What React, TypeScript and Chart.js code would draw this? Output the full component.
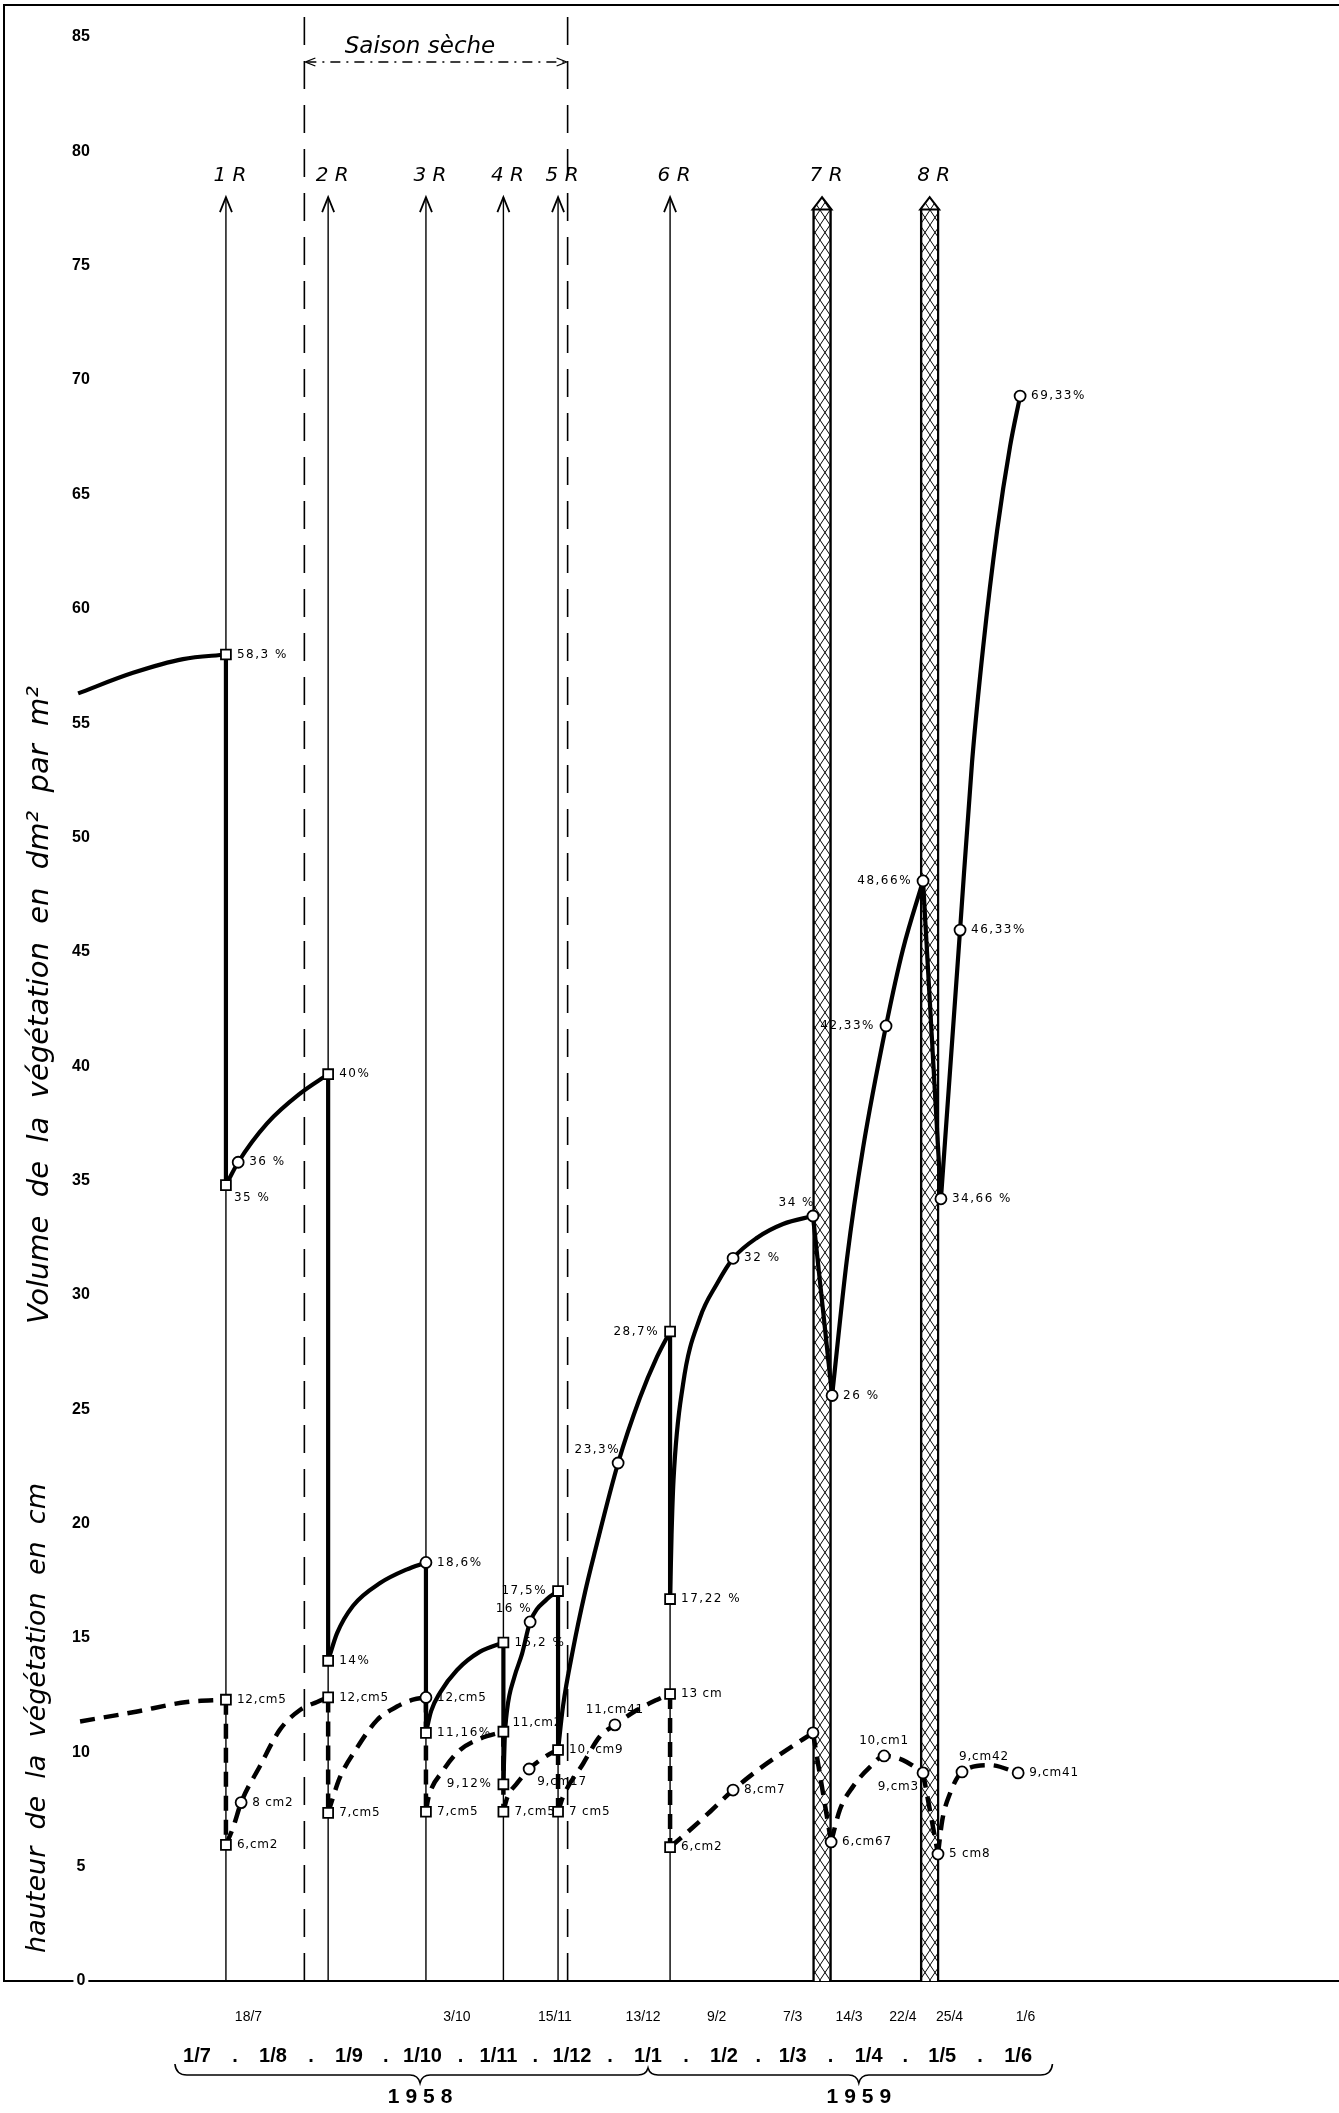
import React, { useEffect, useRef } from 'react';
import { Chart, registerables } from 'chart.js';

Chart.register(...registerables);

// x = days after 1 July 1958 (as drawn), y = value on the shared axis
const yTicks = [0, 5, 10, 15, 20, 25, 30, 35, 40, 45, 50, 55, 60, 65, 70, 75, 80, 85];
const monthDays = [0, 31, 62, 92, 123, 153, 184, 215, 243, 274, 304, 335];
const monthLabels = ['1/7', '1/8', '1/9', '1/10', '1/11', '1/12', '1/1', '1/2', '1/3', '1/4', '1/5', '1/6'];
const dateTickDays = [21, 106, 146, 182, 212, 243, 266, 288, 307, 338];
const dateTickLabels = ['18/7', '3/10', '15/11', '13/12', '9/2', '7/3', '14/3', '22/4', '25/4', '1/6'];
const yearLabels = ['1958', '1959'];
const yearCenters = [91, 270];
const braceDays = [-9, 184, 349];

const cutLabels = ['1 R', '2 R', '3 R', '4 R', '5 R', '6 R', '7 R', '8 R'];
const cutDays = [11.8, 53.5, 93.4, 125, 147.3, 193, 255, 298.9];
const cutHatched = [false, false, false, false, false, false, true, true];
const arrowTop = 78;
const bandTop = 77.5;
const drySeasonDays = [43.8, 151.2];
const drySeasonTop = 86.1;
const drySeasonLabel = 'Saison sèche';

const volumeTitle = 'Volume  de  la  végétation  en  dm²  par  m²';
const heightTitle = 'hauteur  de  la  végétation  en  cm';

// Volume de la végétation (solid): growth curves between cuts
const volumeCurves: number[][][] = [
  [[-48.5, 56.3], [-26.1, 57.2], [-5.7, 57.8], [11.8, 58.0]],
  [[11.8, 34.8], [16.8, 35.8], [28.6, 37.5], [42, 38.8], [53.5, 39.65]],
  [[53.5, 14.0], [57.1, 15.2], [63.6, 16.4], [74.7, 17.4], [85.7, 18.0], [93.4, 18.3]],
  [[93.4, 10.85], [95.5, 11.8], [99.1, 12.6], [106.1, 13.6], [115.5, 14.4], [125, 14.8]],
  [[125, 8.6], [125.5, 10.5], [126.5, 11.85], [129.5, 13.3], [132.6, 14.3], [135.9, 15.7], [142.8, 16.7], [147.3, 17.05]],
  [[147.3, 10.1], [149.3, 12.0], [153.4, 14.5], [158.3, 17.0], [162.4, 18.8], [171.8, 22.65], [180.7, 25.5], [187.7, 27.3], [193, 28.4]],
  [[193, 16.7], [193.6, 19.5], [194.4, 21.9], [198.3, 26.1], [205.2, 29.0], [212.2, 30.5], [218.7, 31.6], [228.5, 32.5], [239.1, 33.1], [251.3, 33.45]],
  [[259.1, 25.6], [265.2, 31.6], [271.7, 36.4], [281.1, 41.76], [288, 45.1], [296.2, 48.1]],
  [[303.5, 34.2], [311.3, 45.95], [316.2, 53.3], [320.7, 58.3], [326.4, 63.4], [331.7, 67.1], [335.8, 69.3]],
];

// Hauteur de la végétation (dashed): growth curves between cuts
const heightCurves: number[][][] = [
  [[-47.7, 11.35], [-26.1, 11.75], [-4.1, 12.2], [11.8, 12.3]],
  [[11.8, 5.95], [14.7, 6.7], [18, 7.8], [25.7, 9.4], [33.9, 11.0], [42, 11.85], [49, 12.2], [53.5, 12.4]],
  [[53.5, 7.35], [55.1, 7.9], [58.3, 8.9], [65.3, 10.2], [73.4, 11.4], [81.6, 12.0], [88.1, 12.3], [93.4, 12.4]],
  [[93.4, 7.4], [94.4, 8.0], [100.4, 9.2], [107.3, 10.1], [115.5, 10.6], [125, 10.9]],
  [[125, 7.4], [126.5, 8.0], [130.6, 8.65], [135.5, 9.27], [141.2, 9.75], [145.2, 10.0], [147.3, 10.1]],
  [[147.3, 7.4], [149.3, 8.05], [157.5, 9.5], [164.4, 10.7], [170.5, 11.2], [179.5, 11.85], [187.7, 12.3], [193, 12.55]],
  [[193, 5.85], [201.1, 6.6], [209.3, 7.4], [218.7, 8.35], [228.5, 9.2], [239.1, 10.0], [251.3, 10.85]],
  [[258.7, 6.08], [262.3, 7.5], [267.6, 8.5], [274.6, 9.36], [280.3, 9.84], [288, 9.66], [296.2, 9.1]],
  [[302.3, 5.55], [304, 7.0], [307.2, 8.2], [312.1, 9.14], [323.5, 9.44], [335, 9.1]],
];

const volumeSquares = [[11.8, 58.0], [11.8, 34.8], [53.5, 39.65], [53.5, 14.0], [93.4, 10.85], [125, 14.8], [125, 8.6], [147.3, 17.05], [193, 28.4], [193, 16.7]];
const volumeSquareLabels = ['58,3 %', '35 %', '40%', '14%', '11,16%', '15,2 %', '9,12%', '17,5%', '28,7%', '17,22 %'];
const volumeSquareSides = ['r', 'br', 'r', 'r', 'r', 'r', 'l', 'l', 'l', 'r'];

const volumeCircles = [[16.8, 35.8], [93.4, 18.3], [135.9, 15.7], [171.8, 22.65], [218.7, 31.6], [251.3, 33.45], [259.1, 25.6], [281.1, 41.76], [296.2, 48.1], [303.5, 34.2], [311.3, 45.95], [335.8, 69.3]];
const volumeCircleLabels = ['36 %', '18,6%', '16 %', '23,3%', '32 %', '34 %', '26 %', '42,33%', '48,66%', '34,66 %', '46,33%', '69,33%'];
const volumeCircleSides = ['r', 'r', 'al', 'al', 'r', 'al', 'r', 'l', 'l', 'r', 'r', 'r'];

const heightSquares = [[11.8, 12.3], [11.8, 5.95], [53.5, 12.4], [53.5, 7.35], [93.4, 7.4], [125, 10.9], [125, 7.4], [147.3, 10.1], [147.3, 7.4], [193, 12.55], [193, 5.85]];
const heightSquareLabels = ['12,cm5', '6,cm2', '12,cm5', '7,cm5', '7,cm5', '11,cm2', '7,cm5', '10, cm9', '7 cm5', '13 cm', '6,cm2'];
const heightSquareSides = ['r', 'r', 'r', 'r', 'r', 'ru', 'r', 'r', 'r', 'r', 'r'];

const heightCircles = [[18, 7.8], [93.4, 12.4], [135.5, 9.27], [170.5, 11.2], [218.7, 8.35], [251.3, 10.85], [258.7, 6.08], [280.3, 9.84], [296.2, 9.1], [302.3, 5.55], [312.1, 9.14], [335, 9.1]];
const heightCircleLabels = ['8 cm2', '12,cm5', '9,cm17', '11,cm41', '8,cm7', '', '6,cm67', '10,cm1', '9,cm3', '5 cm8', '9,cm42', '9,cm41'];
const heightCircleSides = ['r', 'r', 'br', 'a', 'r', 'r', 'r', 'a', 'bl', 'r', 'ar', 'r'];

const monthTickValues: number[] = [];
const monthTickTexts: string[] = [];
monthDays.forEach((d, i) => {
  monthTickValues.push(d);
  monthTickTexts.push(monthLabels[i]);
  if (i < monthDays.length - 1) {
    monthTickValues.push((d + monthDays[i + 1]) / 2);
    monthTickTexts.push('.');
  }
});

const DAY_MIN = -78.74;
const DAY_MAX = 465.9;
const NARROW = '"Liberation Sans Narrow", "Liberation Sans", sans-serif';

export default function App() {
  const ref = useRef<HTMLCanvasElement>(null);

  useEffect(() => {
    document.body.style.margin = '0';
    const canvas = ref.current!;
    const ctx0 = canvas.getContext('2d')!;

    const pc = document.createElement('canvas');
    pc.width = 10;
    pc.height = 15;
    const p = pc.getContext('2d')!;
    p.fillStyle = '#fff';
    p.fillRect(0, 0, 10, 15);
    p.strokeStyle = '#000';
    p.lineWidth = 1;
    p.beginPath();
    p.moveTo(0, 0); p.lineTo(10, 15);
    p.moveTo(10, 0); p.lineTo(0, 15);
    p.stroke();
    const hatch = ctx0.createPattern(pc, 'repeat')!;

    const ax = { xAxisID: 'x', yAxisID: 'y' };
    const toPts = (c: number[][]) => c.map(([x, y]) => ({ x, y }));
    const datasets: any[] = [];

    datasets.push({
      type: 'bar', ...ax,
      data: cutDays.filter((_, i) => cutHatched[i]).map((d) => ({ x: d, y: bandTop })),
      backgroundColor: hatch, borderColor: '#000',
      borderWidth: { left: 2.5, right: 2.5, top: 0, bottom: 0 },
      barThickness: 19, order: 20,
    });

    cutDays.forEach((d, i) => {
      if (cutHatched[i]) return;
      datasets.push({
        type: 'line', ...ax, data: [{ x: d, y: 0 }, { x: d, y: arrowTop }],
        borderColor: '#000', borderWidth: 1.4, pointRadius: 0, order: 15,
      });
    });
    drySeasonDays.forEach((d) => {
      datasets.push({
        type: 'line', ...ax, data: [{ x: d, y: 0 }, { x: d, y: drySeasonTop }],
        borderColor: '#000', borderWidth: 1.6, borderDash: [28, 16], pointRadius: 0, order: 15,
      });
    });

    const addSeries = (curves: number[][][], dash: number[] | undefined, width: number, order: number) => {
      curves.forEach((c, i) => {
        datasets.push({
          type: 'line', ...ax, data: toPts(c), borderColor: '#000', borderWidth: width,
          borderDash: dash, cubicInterpolationMode: 'monotone', pointRadius: 0, order,
          borderJoinStyle: 'round',
        });
        if (i < curves.length - 1) {
          datasets.push({
            type: 'line', ...ax, data: toPts([c[c.length - 1], curves[i + 1][0]]),
            borderColor: '#000', borderWidth: width, borderDash: dash, pointRadius: 0, order,
          });
        }
      });
    };
    addSeries(volumeCurves, undefined, 4.2, 5);
    addSeries(heightCurves, [15, 9], 4.5, 6);

    const markerDefs: any[] = [
      { pts: volumeSquares, labels: volumeSquareLabels, sides: volumeSquareSides, style: 'rect', r: 7, sp: '1.5px' },
      { pts: volumeCircles, labels: volumeCircleLabels, sides: volumeCircleSides, style: 'circle', r: 5.5, sp: '1.5px' },
      { pts: heightSquares, labels: heightSquareLabels, sides: heightSquareSides, style: 'rect', r: 7, sp: '0.8px' },
      { pts: heightCircles, labels: heightCircleLabels, sides: heightCircleSides, style: 'circle', r: 5.5, sp: '0.8px' },
    ];
    markerDefs.forEach((m) => {
      m.index = datasets.length;
      datasets.push({
        type: 'line', ...ax, data: toPts(m.pts), showLine: false,
        pointStyle: m.style, pointRadius: m.r, pointBackgroundColor: '#fff',
        pointBorderColor: '#000', pointBorderWidth: 1.8, order: 0,
      });
    });

    const place = (code: string, x: number, y: number): [number, number, CanvasTextAlign] => {
      switch (code) {
        case 'l': return [x - 11, y, 'right'];
        case 'a': return [x, y - 15, 'center'];
        case 'b': return [x, y + 15, 'center'];
        case 'ar': return [x - 3, y - 15, 'left'];
        case 'ru': return [x + 9, y - 9, 'left'];
        case 'al': return [x + 2, y - 13, 'right'];
        case 'br': return [x + 8, y + 13, 'left'];
        case 'bl': return [x - 4, y + 14, 'right'];
        default: return [x + 11, y, 'left'];
      }
    };

    const labelPlugin = {
      id: 'pointLabels',
      afterDatasetsDraw(chart: any) {
        const ctx = chart.ctx;
        ctx.save();
        ctx.fillStyle = '#000';
        ctx.font = '12px "DejaVu Sans"';
        ctx.textBaseline = 'middle';
        markerDefs.forEach((m) => {
          (ctx as any).letterSpacing = m.sp;
          const meta = chart.getDatasetMeta(m.index);
          meta.data.forEach((pt: any, i: number) => {
            const txt = m.labels[i];
            if (!txt) return;
            const [lx, ly, al] = place(m.sides[i], pt.x, pt.y);
            ctx.textAlign = al;
            ctx.fillText(txt, lx, ly);
          });
        });
        (ctx as any).letterSpacing = '0px';
        ctx.restore();
      },
    };

    const decorPlugin = {
      id: 'decor',
      afterDraw(chart: any) {
        const ctx = chart.ctx;
        const xs = chart.scales.x;
        const ys = chart.scales.y;
        ctx.save();
        ctx.fillStyle = '#000';
        ctx.strokeStyle = '#000';

        // cut arrows, hatched band tips and R labels
        const tipY = ys.getPixelForValue(arrowTop);
        const shoulderY = ys.getPixelForValue(bandTop);
        cutDays.forEach((d, i) => {
          const px = xs.getPixelForValue(d);
          if (cutHatched[i]) {
            ctx.beginPath();
            ctx.moveTo(px - 9.5, shoulderY + 1);
            ctx.lineTo(px, tipY);
            ctx.lineTo(px + 9.5, shoulderY + 1);
            ctx.closePath();
            ctx.fillStyle = hatch;
            ctx.fill();
            ctx.lineWidth = 2;
            ctx.stroke();
            ctx.fillStyle = '#000';
          } else {
            ctx.lineWidth = 1.8;
            ctx.beginPath();
            ctx.moveTo(px - 6, tipY + 15);
            ctx.lineTo(px, tipY);
            ctx.lineTo(px + 6, tipY + 15);
            ctx.stroke();
          }
          ctx.font = 'italic 20px "DejaVu Sans"';
          ctx.textAlign = 'center';
          ctx.textBaseline = 'middle';
          ctx.fillText(cutLabels[i], px + 4, tipY - 21);
        });

        // dry season annotation
        const xa = xs.getPixelForValue(drySeasonDays[0]);
        const xb = xs.getPixelForValue(drySeasonDays[1]);
        const top = chart.chartArea.top;
        ctx.font = 'italic 23px "DejaVu Sans"';
        ctx.textAlign = 'center';
        ctx.textBaseline = 'alphabetic';
        ctx.fillText(drySeasonLabel, (xa + xb) / 2 - 16, top + 48);
        const ay = top + 57;
        ctx.lineWidth = 1.3;
        ctx.setLineDash([10, 6, 2, 6]);
        ctx.beginPath();
        ctx.moveTo(xa + 2, ay);
        ctx.lineTo(xb - 2, ay);
        ctx.stroke();
        ctx.setLineDash([]);
        ctx.beginPath();
        ctx.moveTo(xa + 11, ay - 4); ctx.lineTo(xa + 1, ay); ctx.lineTo(xa + 11, ay + 4);
        ctx.moveTo(xb - 11, ay - 4); ctx.lineTo(xb - 1, ay); ctx.lineTo(xb - 11, ay + 4);
        ctx.stroke();

        // axis titles, written inside the frame
        ctx.textAlign = 'center';
        ctx.textBaseline = 'alphabetic';
        ctx.save();
        ctx.translate(48, 1005);
        ctx.rotate(-Math.PI / 2);
        ctx.font = 'italic 29px "DejaVu Sans"';
        ctx.fillText(volumeTitle, 0, 0);
        ctx.restore();
        ctx.save();
        ctx.translate(45, 1718);
        ctx.rotate(-Math.PI / 2);
        ctx.font = 'italic 27px "DejaVu Sans"';
        ctx.fillText(heightTitle, 0, 0);
        ctx.restore();

        // brace and years
        const L = xs.getPixelForValue(braceDays[0]);
        const M = xs.getPixelForValue(braceDays[1]);
        const R = xs.getPixelForValue(braceDays[2]);
        const c1 = xs.getPixelForValue(yearCenters[0]);
        const c2 = xs.getPixelForValue(yearCenters[1]);
        const yb = 2075;
        ctx.lineWidth = 1.6;
        ctx.beginPath();
        ctx.moveTo(L, yb - 11);
        ctx.quadraticCurveTo(L + 1, yb, L + 12, yb);
        const cusp = (cx: number, dy: number) => {
          ctx.lineTo(cx - 10, yb);
          ctx.quadraticCurveTo(cx - 2, yb, cx, yb + dy);
          ctx.quadraticCurveTo(cx + 2, yb, cx + 10, yb);
        };
        cusp(c1, 8);
        cusp(M, -7);
        cusp(c2, 8);
        ctx.lineTo(R - 12, yb);
        ctx.quadraticCurveTo(R - 1, yb, R, yb - 11);
        ctx.stroke();
        ctx.font = `bold 21px ${NARROW}`;
        ctx.textAlign = 'center';
        ctx.textBaseline = 'middle';
        (ctx as any).letterSpacing = '6px';
        ctx.fillText(yearLabels[0], c1 + 3, 2097);
        ctx.fillText(yearLabels[1], c2 + 3, 2097);
        (ctx as any).letterSpacing = '0px';
        ctx.restore();
      },
    };

    const zeroPad = (s: any) => {
      s.paddingLeft = 0; s.paddingRight = 0; s.paddingTop = 0; s.paddingBottom = 0;
    };

    const chart = new Chart(canvas, {
      type: 'line',
      data: { datasets },
      options: {
        responsive: false,
        animation: false,
        devicePixelRatio: 1,
        events: [],
        layout: { autoPadding: false, padding: { top: 5, left: 0, right: 0, bottom: 0 } },
        plugins: { legend: { display: false }, tooltip: { enabled: false }, title: { display: false } },
        scales: {
          x: {
            type: 'linear', position: 'bottom', min: DAY_MIN, max: DAY_MAX, offset: false, weight: 0,
            afterFit: (s: any) => { s.height = 55; zeroPad(s); },
            afterBuildTicks: (s: any) => { s.ticks = dateTickDays.map((v) => ({ value: v })); },
            grid: { display: false, drawTicks: false },
            border: { display: true, color: '#000', width: 2 },
            ticks: {
              autoSkip: false, maxRotation: 0, minRotation: 0, padding: 28, color: '#000',
              font: { family: NARROW, size: 14 },
              callback: (_v: any, i: number) => dateTickLabels[i],
            },
          },
          x2: {
            type: 'linear', position: 'bottom', min: DAY_MIN, max: DAY_MAX, offset: false, weight: 1,
            afterFit: (s: any) => { s.height = 77; zeroPad(s); },
            afterBuildTicks: (s: any) => { s.ticks = monthTickValues.map((v) => ({ value: v })); },
            grid: { display: false, drawTicks: false },
            border: { display: false },
            ticks: {
              autoSkip: false, maxRotation: 0, minRotation: 0, padding: 8, color: '#000',
              font: { family: NARROW, size: 20, weight: 'bold' },
              callback: (_v: any, i: number) => monthTickTexts[i],
            },
          },
          xTop: {
            type: 'linear', position: 'top', min: DAY_MIN, max: DAY_MAX, offset: false,
            afterFit: (s: any) => { s.height = 0; zeroPad(s); },
            grid: { display: false, drawTicks: false },
            border: { display: true, color: '#000', width: 2 },
            ticks: { display: false },
          },
          y: {
            type: 'linear', position: 'left', min: 0, max: 86.4, z: 1,
            afterFit: (s: any) => { s.width = 4; zeroPad(s); },
            afterBuildTicks: (s: any) => { s.ticks = yTicks.map((v) => ({ value: v })); },
            grid: { display: false, drawTicks: false },
            border: { display: true, color: '#000', width: 2 },
            ticks: {
              mirror: true, padding: 68, crossAlign: 'center', color: '#000',
              font: { family: '"Liberation Sans", sans-serif', size: 16, weight: 'bold' },
              showLabelBackdrop: true, backdropColor: '#fff', backdropPadding: 3,
              callback: (v: any) => String(v),
            },
          },
        },
      } as any,
      plugins: [labelPlugin, decorPlugin],
    });

    return () => chart.destroy();
  }, []);

  return (
    <canvas
      ref={ref}
      width={1339}
      height={2113}
      style={{ display: 'block', width: 1339, height: 2113 }}
    />
  );
}
